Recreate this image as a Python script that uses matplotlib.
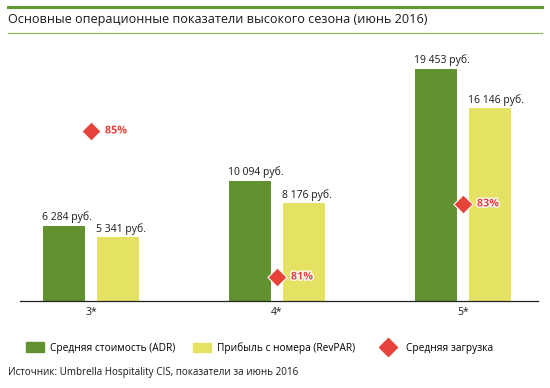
import matplotlib
matplotlib.use("Agg")
import matplotlib.pyplot as plt
import matplotlib.patheffects as pe
from matplotlib.lines import Line2D
from matplotlib.patches import Patch
import numpy as np

plt.rcParams['font.family'] = ['Open Sans', 'DejaVu Sans']

categories = ["3*", "4*", "5*"]
adr = [6284, 10094, 19453]
revpar = [5341, 8176, 16146]
load = [85, 81, 83]
adr_labels = ["6 284 руб.", "10 094 руб.", "19 453 руб."]
revpar_labels = ["5 341 руб.", "8 176 руб.", "16 146 руб."]
load_labels = ["85%", "81%", "83%"]

GREEN = "#62922F"
YELLOW = "#E5E163"
RED = "#E8433B"
TXT = "#1a1a1a"

W, H = 550, 388
fig = plt.figure(figsize=(W / 100, H / 100), dpi=100)

ax_l, ax_r, ax_t, ax_b = 20, 538, 45, 301
ax = fig.add_axes([ax_l / W, 1 - ax_b / H, (ax_r - ax_l) / W, (ax_b - ax_t) / H])
ax2 = ax.twinx()

x = np.arange(len(categories))
px_per_cat = 186.0
bw = 42 / px_per_cat
off = 27 / px_per_cat
b1 = ax.bar(x - off, adr, width=bw, color=GREEN, label="Средняя стоимость (ADR)")
b2 = ax.bar(x + off, revpar, width=bw, color=YELLOW, label="Прибыль с номера (RevPAR)")

x0 = (ax_l - 91) / px_per_cat
x1 = (ax_r - 91) / px_per_cat
ax.set_xlim(x0, x1)
ax.set_ylim(0, 21466)
ax2.set_ylim(80.342, 87.356)

for i in range(len(categories)):
    ax.annotate(adr_labels[i], (x[i] - off - bw / 2, adr[i]), xytext=(-1, 2),
                textcoords="offset points", ha="left", va="bottom", fontsize=7.5, color=TXT)
    ax.annotate(revpar_labels[i], (x[i] + off - bw / 2, revpar[i]), xytext=(-1, 2),
                textcoords="offset points", ha="left", va="bottom", fontsize=7.5, color=TXT)

sc = ax2.scatter(x, load, marker="D", s=95, color=RED, edgecolors="white", linewidths=0.8,
                 zorder=5, label="Средняя загрузка")
for i in range(len(categories)):
    ax2.annotate(load_labels[i], (x[i], load[i]), xytext=(10, 0), textcoords="offset points",
                 ha="left", va="center", fontsize=7.8, fontweight="bold", color=RED,
                 path_effects=[pe.withStroke(linewidth=2, foreground="white")])

for a in (ax, ax2):
    for s in ("top", "right", "left"):
        a.spines[s].set_visible(False)
    a.set_yticks([])
ax.spines["bottom"].set_color("#222222")
ax.spines["bottom"].set_linewidth(0.9)
ax2.spines["bottom"].set_visible(False)
ax.set_xticks(x)
ax.set_xticklabels(categories, fontsize=7.5, color=TXT)
ax.tick_params(axis="x", length=0, pad=4)

fig.add_artist(Line2D([8 / W, 542 / W], [1 - 7 / H, 1 - 7 / H], color="#5E9A2E", lw=2.2))
fig.add_artist(Line2D([8 / W, 542 / W], [1 - 33 / H, 1 - 33 / H], color="#8DBB5E", lw=0.9))
fig.text(8 / W, 1 - 20 / H, "Основные операционные показатели высокого сезона (июнь 2016)",
         fontsize=9.1, va="center", ha="left", color=TXT)

leg_kw = dict(frameon=False, fontsize=7.3, handlelength=1.8, handleheight=1.0,
              handletextpad=0.6, borderpad=0, borderaxespad=0, loc="center left")
fig.legend(handles=[Patch(color=GREEN)], labels=["Средняя стоимость (ADR)"],
           bbox_to_anchor=(26 / W, 1 - 348 / H), **leg_kw)
fig.legend(handles=[Patch(color=YELLOW)], labels=["Прибыль с номера (RevPAR)"],
           bbox_to_anchor=(193 / W, 1 - 348 / H), **leg_kw)
leg_kw3 = dict(leg_kw, handletextpad=0.9)
fig.legend(handles=[Line2D([], [], marker="D", ls="", color=RED, markersize=9)],
           labels=["Средняя загрузка"], bbox_to_anchor=(379 / W, 1 - 348 / H), **leg_kw3)

fig.text(8 / W, 1 - 373 / H, "Источник: Umbrella Hospitality CIS, показатели за июнь 2016",
         fontsize=7.15, va="center", ha="left", color=TXT)

fig.savefig("out.png", dpi=100)
